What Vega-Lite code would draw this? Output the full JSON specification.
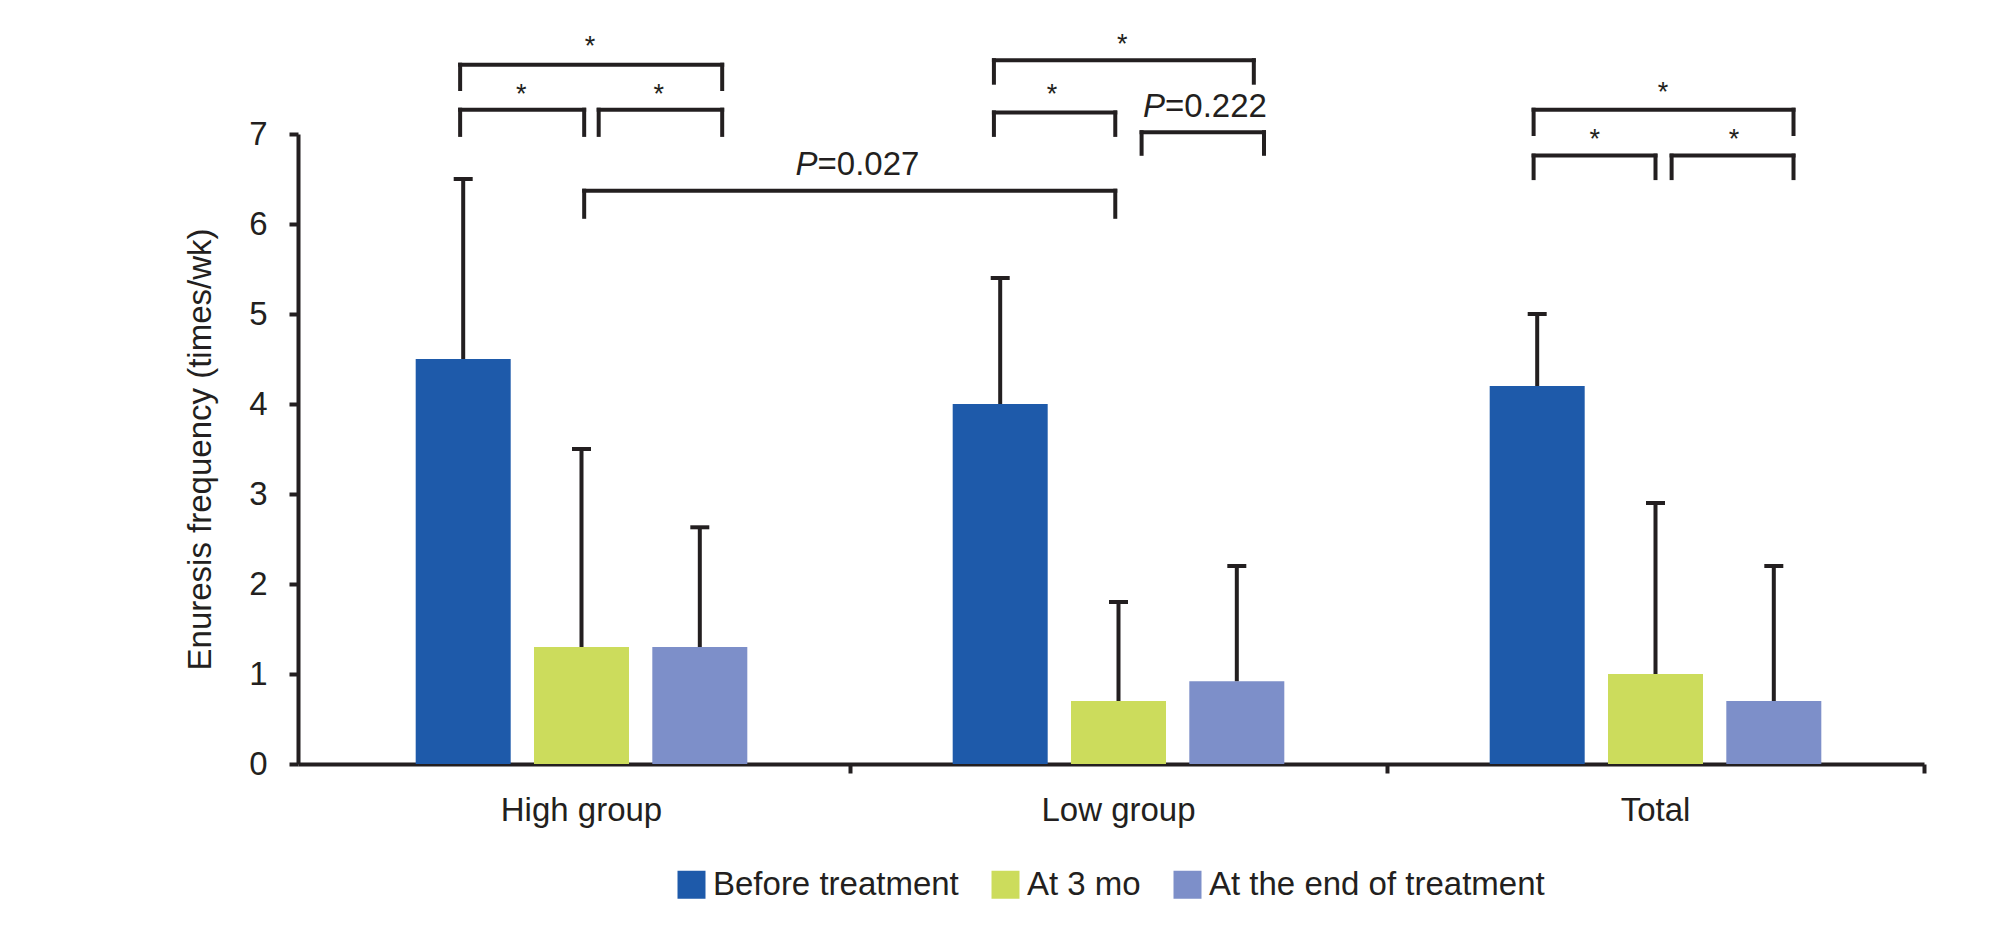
{
  "$schema": "https://vega.github.io/schema/vega-lite/v6.json",
  "width": 1626,
  "height": 630,
  "autosize": {"type": "none"},
  "padding": {"left": 298, "top": 134, "right": 74, "bottom": 170},
  "background": "white",
  "config": {
    "view": {"stroke": null},
    "font": "Liberation Sans",
    "axis": {
      "domainColor": "#231f20", "domainWidth": 4,
      "tickColor": "#231f20", "tickWidth": 4, "tickSize": 9,
      "labelFont": "Liberation Sans", "labelFontSize": 33, "labelColor": "#231f20",
      "titleFont": "Liberation Sans", "titleFontSize": 33, "titleFontWeight": "normal", "titleColor": "#231f20",
      "grid": false
    },
    "legend": {
      "orient": "none", "legendX": 377, "legendY": 734,
      "direction": "horizontal", "columns": 3, "columnPadding": 30,
      "symbolType": "square", "symbolSize": 784, "symbolStrokeWidth": 0, "symbolOpacity": 1,
      "labelFont": "Liberation Sans", "labelFontSize": 33, "labelColor": "#231f20",
      "labelOffset": 5, "labelLimit": 600, "padding": 0
    }
  },
  "datasets": {
    "bars": [
      {"group": "High group", "series": "Before treatment", "mean": 4.5, "upper": 6.5},
      {"group": "High group", "series": "At 3 mo", "mean": 1.3, "upper": 3.5},
      {"group": "High group", "series": "At the end of treatment", "mean": 1.3, "upper": 2.63},
      {"group": "Low group", "series": "Before treatment", "mean": 4.0, "upper": 5.4},
      {"group": "Low group", "series": "At 3 mo", "mean": 0.7, "upper": 1.8},
      {"group": "Low group", "series": "At the end of treatment", "mean": 0.92, "upper": 2.2},
      {"group": "Total", "series": "Before treatment", "mean": 4.2, "upper": 5.0},
      {"group": "Total", "series": "At 3 mo", "mean": 1.0, "upper": 2.9},
      {"group": "Total", "series": "At the end of treatment", "mean": 0.7, "upper": 2.2}
    ],
    "brackets": [
      {"x1": 0.274, "x2": 0.762, "ytop": 7.77, "ybot": 7.5},
      {"x1": 0.274, "x2": 0.505, "ytop": 7.27, "ybot": 6.99},
      {"x1": 0.532, "x2": 0.762, "ytop": 7.27, "ybot": 6.99},
      {"x1": 1.268, "x2": 1.752, "ytop": 7.82, "ybot": 7.57},
      {"x1": 1.268, "x2": 1.494, "ytop": 7.24, "ybot": 6.99},
      {"x1": 1.543, "x2": 1.771, "ytop": 7.02, "ybot": 6.78},
      {"x1": 2.273, "x2": 2.757, "ytop": 7.27, "ybot": 7.0},
      {"x1": 2.273, "x2": 2.5, "ytop": 6.76, "ybot": 6.51},
      {"x1": 2.53, "x2": 2.757, "ytop": 6.76, "ybot": 6.51},
      {"x1": 0.505, "x2": 1.494, "ytop": 6.37, "ybot": 6.08}
    ],
    "stars": [
      {"sx": 0.516, "sy": 8.04, "label": "*"},
      {"sx": 0.388, "sy": 7.51, "label": "*"},
      {"sx": 0.644, "sy": 7.51, "label": "*"},
      {"sx": 1.507, "sy": 8.07, "label": "*"},
      {"sx": 1.376, "sy": 7.51, "label": "*"},
      {"sx": 2.514, "sy": 7.53, "label": "*"},
      {"sx": 2.387, "sy": 7.01, "label": "*"},
      {"sx": 2.646, "sy": 7.01, "label": "*"}
    ],
    "pvals": [
      {"px": 0.9395, "py": 6.54, "p": "P", "rest": "=0.027"},
      {"px": 1.5866, "py": 7.19, "p": "P", "rest": "=0.222"}
    ]
  },
  "layer": [
    {
      "data": {"name": "bars"},
      "encoding": {
        "x": {
          "field": "group", "type": "nominal", "sort": null,
          "scale": {"paddingInner": 0, "paddingOuter": 0.01397, "align": 1},
          "axis": {"title": null, "labelAngle": 0, "bandPosition": 1, "labelPadding": 21}
        },
        "xOffset": {
          "field": "series", "type": "nominal", "sort": ["Before treatment", "At 3 mo", "At the end of treatment"],
          "scale": {"paddingInner": 0.197, "paddingOuter": 0.868}
        }
      },
      "layer": [
        {
          "mark": {"type": "bar"},
          "encoding": {
            "y": {
              "field": "mean", "type": "quantitative",
              "scale": {"domain": [0, 7], "nice": false},
              "title": "Enuresis frequency (times/wk)",
              "axis": {"values": [0, 1, 2, 3, 4, 5, 6, 7], "format": "d", "labelPadding": 22, "titlePadding": 31}
            },
            "color": {
              "field": "series", "type": "nominal",
              "scale": {"domain": ["Before treatment", "At 3 mo", "At the end of treatment"], "range": ["#1e5aaa", "#ccdc5c", "#7d8fc9"]},
              "legend": {"title": null}
            }
          }
        },
        {
          "mark": {"type": "rule", "strokeWidth": 4, "color": "#231f20"},
          "encoding": {
            "y": {"field": "mean", "type": "quantitative", "scale": {"domain": [0, 7], "nice": false}, "title": "Enuresis frequency (times/wk)"},
            "y2": {"field": "upper"}
          }
        },
        {
          "mark": {"type": "tick", "orient": "horizontal", "size": 19, "thickness": 4, "color": "#231f20", "opacity": 1},
          "encoding": {
            "y": {"field": "upper", "type": "quantitative", "scale": {"domain": [0, 7], "nice": false}, "title": "Enuresis frequency (times/wk)"}
          }
        }
      ]
    },
    {
      "layer": [
        {
          "data": {"name": "brackets"},
          "mark": {"type": "rule", "strokeWidth": 4, "color": "#231f20", "strokeCap": "square"},
          "encoding": {
            "x": {"field": "x1", "type": "quantitative", "scale": {"domain": [-0.02793, 3], "nice": false, "zero": false}, "axis": null},
            "x2": {"field": "x2"},
            "y": {"field": "ytop", "type": "quantitative", "scale": {"domain": [0, 7], "nice": false}, "title": "Enuresis frequency (times/wk)"}
          }
        },
        {
          "data": {"name": "brackets"},
          "mark": {"type": "rule", "strokeWidth": 4, "color": "#231f20", "strokeCap": "square"},
          "encoding": {
            "x": {"field": "x1", "type": "quantitative", "scale": {"domain": [-0.02793, 3], "nice": false, "zero": false}, "axis": null},
            "y": {"field": "ybot", "type": "quantitative", "scale": {"domain": [0, 7], "nice": false}, "title": "Enuresis frequency (times/wk)"},
            "y2": {"field": "ytop"}
          }
        },
        {
          "data": {"name": "brackets"},
          "mark": {"type": "rule", "strokeWidth": 4, "color": "#231f20", "strokeCap": "square"},
          "encoding": {
            "x": {"field": "x2", "type": "quantitative", "scale": {"domain": [-0.02793, 3], "nice": false, "zero": false}, "axis": null},
            "y": {"field": "ybot", "type": "quantitative", "scale": {"domain": [0, 7], "nice": false}, "title": "Enuresis frequency (times/wk)"},
            "y2": {"field": "ytop"}
          }
        },
        {
          "data": {"name": "stars"},
          "mark": {"type": "text", "font": "Liberation Sans", "fontSize": 27, "color": "#231f20", "baseline": "alphabetic", "align": "center", "dy": 15},
          "encoding": {
            "x": {"field": "sx", "type": "quantitative", "scale": {"domain": [-0.02793, 3], "nice": false, "zero": false}, "axis": null},
            "y": {"field": "sy", "type": "quantitative", "scale": {"domain": [0, 7], "nice": false}, "title": "Enuresis frequency (times/wk)"},
            "text": {"field": "label"}
          }
        },
        {
          "data": {"name": "pvals"},
          "mark": {"type": "text", "font": "Liberation Sans", "fontSize": 33, "fontStyle": "italic", "color": "#231f20", "baseline": "alphabetic", "align": "right"},
          "encoding": {
            "x": {"field": "px", "type": "quantitative", "scale": {"domain": [-0.02793, 3], "nice": false, "zero": false}, "axis": null},
            "y": {"field": "py", "type": "quantitative", "scale": {"domain": [0, 7], "nice": false}, "title": "Enuresis frequency (times/wk)"},
            "text": {"field": "p"}
          }
        },
        {
          "data": {"name": "pvals"},
          "mark": {"type": "text", "font": "Liberation Sans", "fontSize": 33, "color": "#231f20", "baseline": "alphabetic", "align": "left"},
          "encoding": {
            "x": {"field": "px", "type": "quantitative", "scale": {"domain": [-0.02793, 3], "nice": false, "zero": false}, "axis": null},
            "y": {"field": "py", "type": "quantitative", "scale": {"domain": [0, 7], "nice": false}, "title": "Enuresis frequency (times/wk)"},
            "text": {"field": "rest"}
          }
        }
      ]
    }
  ],
  "resolve": {"scale": {"x": "independent"}}
}
